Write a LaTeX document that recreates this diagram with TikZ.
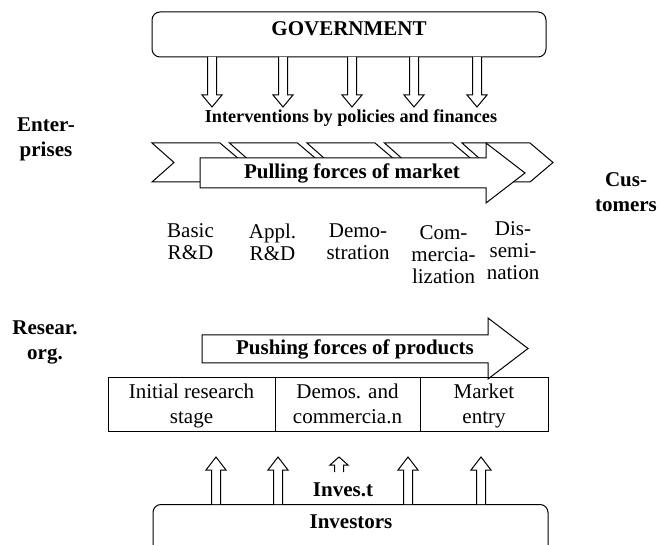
\documentclass[tikz,border=0pt]{standalone}
\usepackage{fontspec}
\setmainfont{Liberation Serif}
\begin{document}
\begin{tikzpicture}[x=1pt,y=-1pt,
  lbl/.style={anchor=base, inner sep=0pt, font=\fontsize{21}{25}\selectfont},
  blbl/.style={anchor=base, inner sep=0pt, font=\bfseries\fontsize{21}{25}\selectfont},
  shp/.style={draw, fill=white, line width=1pt, line join=miter},
  cell/.style={draw, line width=1pt, inner sep=0pt}]
\clip (0,0) rectangle (659,545);
\fill[white] (0,0) rectangle (659,545);

% Government box
\node[shp, rounded corners=8pt, minimum width=394pt, minimum height=45pt, inner sep=0pt] (gov) at (349,34.5) {};
\node[blbl] (govt) at (349,36) {GOVERNMENT};

% down arrows
\foreach \x in {212,283,352,414,477}
  \draw[shp] (\x-4.5,57) -- (\x-4.5,95) -- (\x-10,95) -- (\x,107) -- (\x+10,95) -- (\x+4.5,95) -- (\x+4.5,57);

\node[blbl, font=\bfseries\fontsize{18.2}{22}\selectfont] (interv) at (351,123) {Interventions by policies and finances};

% chevrons
\foreach \s in {152,229.5,307,384.5,462}
  \draw[shp] (\s,143) -- (\s+68,143) -- (\s+91,162.5) -- (\s+68,182) -- (\s,182) -- (\s+22,162.5) -- cycle;

% pulling arrow
\draw[shp] (200,158) -- (486,158) -- (486,143) -- (525,173) -- (486,203) -- (486,188) -- (200,188) -- cycle;
\node[blbl] (pull) at (352,179) {Pulling forces of market};

% side labels
\node[blbl] (ent1) at (46,132) {Enter-};
\node[blbl] (ent2) at (46,157) {prises};
\node[blbl] (cus1) at (626,187) {Cus-};
\node[blbl] (cus2) at (626,212) {tomers};
\node[blbl] (res1) at (45,335) {Resear.};
\node[blbl] (res2) at (45,360) {org.};

% stage labels
\node[lbl] (s1a) at (190.5,238) {Basic};
\node[lbl] (s1b) at (190.5,260) {R\&D};
\node[lbl] (s2a) at (272.5,239) {Appl.};
\node[lbl] (s2b) at (272.5,261) {R\&D};
\node[lbl] (s3a) at (358,238) {Demo-};
\node[lbl] (s3b) at (358,260) {stration};
\node[lbl] (s4a) at (443.5,240) {Com-};
\node[lbl] (s4b) at (443.5,262) {mercia-};
\node[lbl] (s4c) at (443.5,284) {lization};
\node[lbl] (s5a) at (513,236) {Dis-};
\node[lbl] (s5b) at (513,258) {semi-};
\node[lbl] (s5c) at (513,280) {nation};

% pushing arrow
\draw[shp] (202,335) -- (488,335) -- (488,318) -- (528,348.5) -- (488,379) -- (488,363) -- (202,363) -- cycle;
\node[blbl] (push) at (355,355) {Pushing forces of products};

% table
\node[cell, minimum width=167pt, minimum height=53pt] (c1) at (191.5,404.5) {};
\node[cell, minimum width=145pt, minimum height=53pt] (c2) at (347.5,404.5) {};
\node[cell, minimum width=128pt, minimum height=53pt] (c3) at (484,404.5) {};
\node[lbl] (t1a) at (191.5,399) {Initial research};
\node[lbl] (t1b) at (191.5,423) {stage};
\node[lbl] (t2a) at (347.5,399) {Demos. and};
\node[lbl] (t2b) at (347.5,423) {commercia.n};
\node[lbl] (t3a) at (484,399) {Market};
\node[lbl] (t3b) at (484,423) {entry};

% investors box
\node[shp, rounded corners=8pt, minimum width=395pt, minimum height=80pt, inner sep=0pt, anchor=north] (inv) at (350.5,504) {};
\node[blbl] (invt) at (351,528) {Investors};

% up arrows
\foreach \x in {216,278,408,481}
  \draw[shp] (\x-4.5,504) -- (\x-4.5,470) -- (\x-10,470) -- (\x,457) -- (\x+10,470) -- (\x+4.5,470) -- (\x+4.5,504);
\draw[shp, fill=none] (334.5,472) -- (334.5,465) -- (330,465) -- (339,457) -- (348,465) -- (343.5,465) -- (343.5,472);
\node[blbl] (invest) at (343,496) {Inves.t};
\end{tikzpicture}
\end{document}
